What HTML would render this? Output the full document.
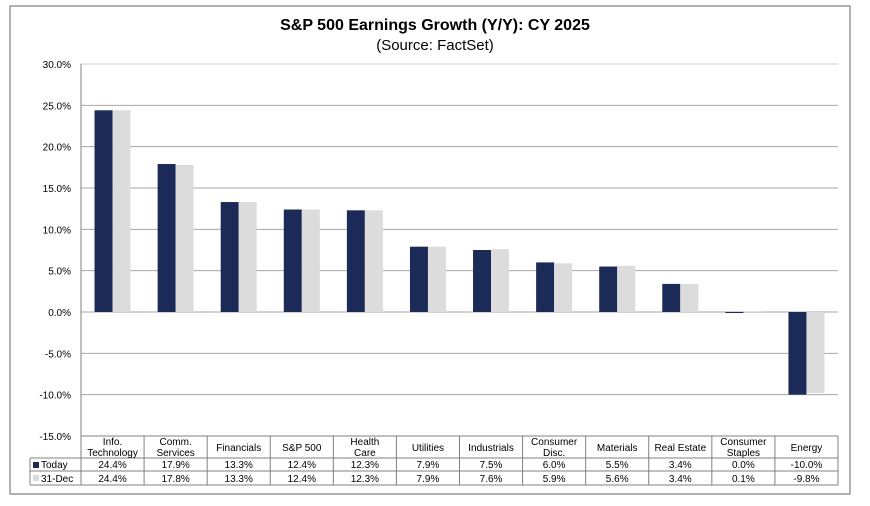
<!DOCTYPE html>
<html><head><meta charset="utf-8"><style>
body{margin:0;background:#fff;font-family:"Liberation Sans",Arial,sans-serif;}
svg text{font-family:"Liberation Sans",Arial,sans-serif;}
</style></head><body>
<svg id="c" width="870" height="501" xmlns="http://www.w3.org/2000/svg">
<rect x="10" y="6" width="840" height="488" fill="#fff" stroke="#7f7f7f" stroke-width="1.2"/>
<text x="435" y="30" text-anchor="middle" font-size="16" font-weight="bold">S&amp;P 500 Earnings Growth (Y/Y): CY 2025</text>
<text x="435" y="50" text-anchor="middle" font-size="15">(Source: FactSet)</text>
<g id="grid"></g><g id="bars"></g><g id="table"></g>
</svg>
<script>
const categories=[["Info.","Technology"],["Comm.","Services"],["Financials"],["S&P 500"],["Health","Care"],["Utilities"],["Industrials"],["Consumer","Disc."],["Materials"],["Real Estate"],["Consumer","Staples"],["Energy"]];
const todayValues=[24.4,17.9,13.3,12.4,12.3,7.9,7.5,6.0,5.5,3.4,0.0,-10.0];
const decValues=[24.4,17.8,13.3,12.4,12.3,7.9,7.6,5.9,5.6,3.4,0.1,-9.8];
const yTicks=[30,25,20,15,10,5,0,-5,-10,-15];
const NS="http://www.w3.org/2000/svg";
const L=81,R=838,T=64,B=436,yMax=30,yMin=-15;
const y=v=>T+(yMax-v)/(yMax-yMin)*(B-T);
const cw=(R-L)/categories.length;
const x=i=>L+i*cw;
function mk(tag,attrs,parent,txt){const e=document.createElementNS(NS,tag);for(const k in attrs)e.setAttribute(k,attrs[k]);if(txt!==undefined)e.textContent=txt;parent.appendChild(e);return e;}
const grid=document.getElementById('grid'),bars=document.getElementById('bars'),table=document.getElementById('table');
yTicks.forEach(t=>{
  const g=mk('line',{x1:L,x2:R,y1:y(t),y2:y(t),stroke:(t===30?'#c8c8c8':'#a6a6a6'),'stroke-width':1},grid);
  
  
  const lb=mk('text',{x:L-10,y:y(t)+4,'text-anchor':'end','font-size':10},grid,t.toFixed(1)+'%');
  
  
});
const ax=mk('line',{x1:L,x2:L,y1:T,y2:B,stroke:'#808080'},grid);


const bw=18;
categories.forEach((c,i)=>{
  const cx=x(i)+cw/2;
  [[todayValues[i],'#1b2a57',cx-bw],[decValues[i],'#dcdcdc',cx]].forEach(([v,col,bx],j)=>{
    const r=mk('rect',{x:bx,y:Math.min(y(v),y(0)),width:bw,height:Math.max(Math.abs(y(v)-y(0)),v===0?1:0),fill:col},bars);
    
    
  });
});
const H0=436,H1=458,H2=471,H3=485;
const ln=(a,b,c,d)=>{const e=mk('line',{x1:a,y1:b,x2:c,y2:d,stroke:'#808080','stroke-width':1},table);};
ln(L,H0,R,H0);ln(30,H1,R,H1);ln(30,H2,R,H2);ln(30,H3,R,H3);ln(30,H1,30,H3);
for(let i=0;i<=categories.length;i++)ln(x(i),H0,x(i),H3);
categories.forEach((c,i)=>{
  const cx=x(i)+cw/2;
  c.forEach((s,k)=>{const t=mk('text',{x:cx,y:(c.length===1?451:445+k*11),'text-anchor':'middle','font-size':10},table,s);
    
    });
  const a=mk('text',{x:cx,y:H1+10,'text-anchor':'middle','font-size':10},table,todayValues[i].toFixed(1)+'%');
  
  
  const b=mk('text',{x:cx,y:H2+11,'text-anchor':'middle','font-size':10},table,decValues[i].toFixed(1)+'%');
  
  
});
const k1=mk('rect',{x:33,y:H1+4,width:6,height:6,fill:'#1b2a57'},table);


const t1=mk('text',{x:41,y:H1+10,'font-size':10},table,'Today');


const k2=mk('rect',{x:33,y:H2+4,width:6,height:6,fill:'#dcdcdc'},table);


const t2=mk('text',{x:41,y:H2+11,'font-size':10},table,'31-Dec');


</script>
</body></html>
